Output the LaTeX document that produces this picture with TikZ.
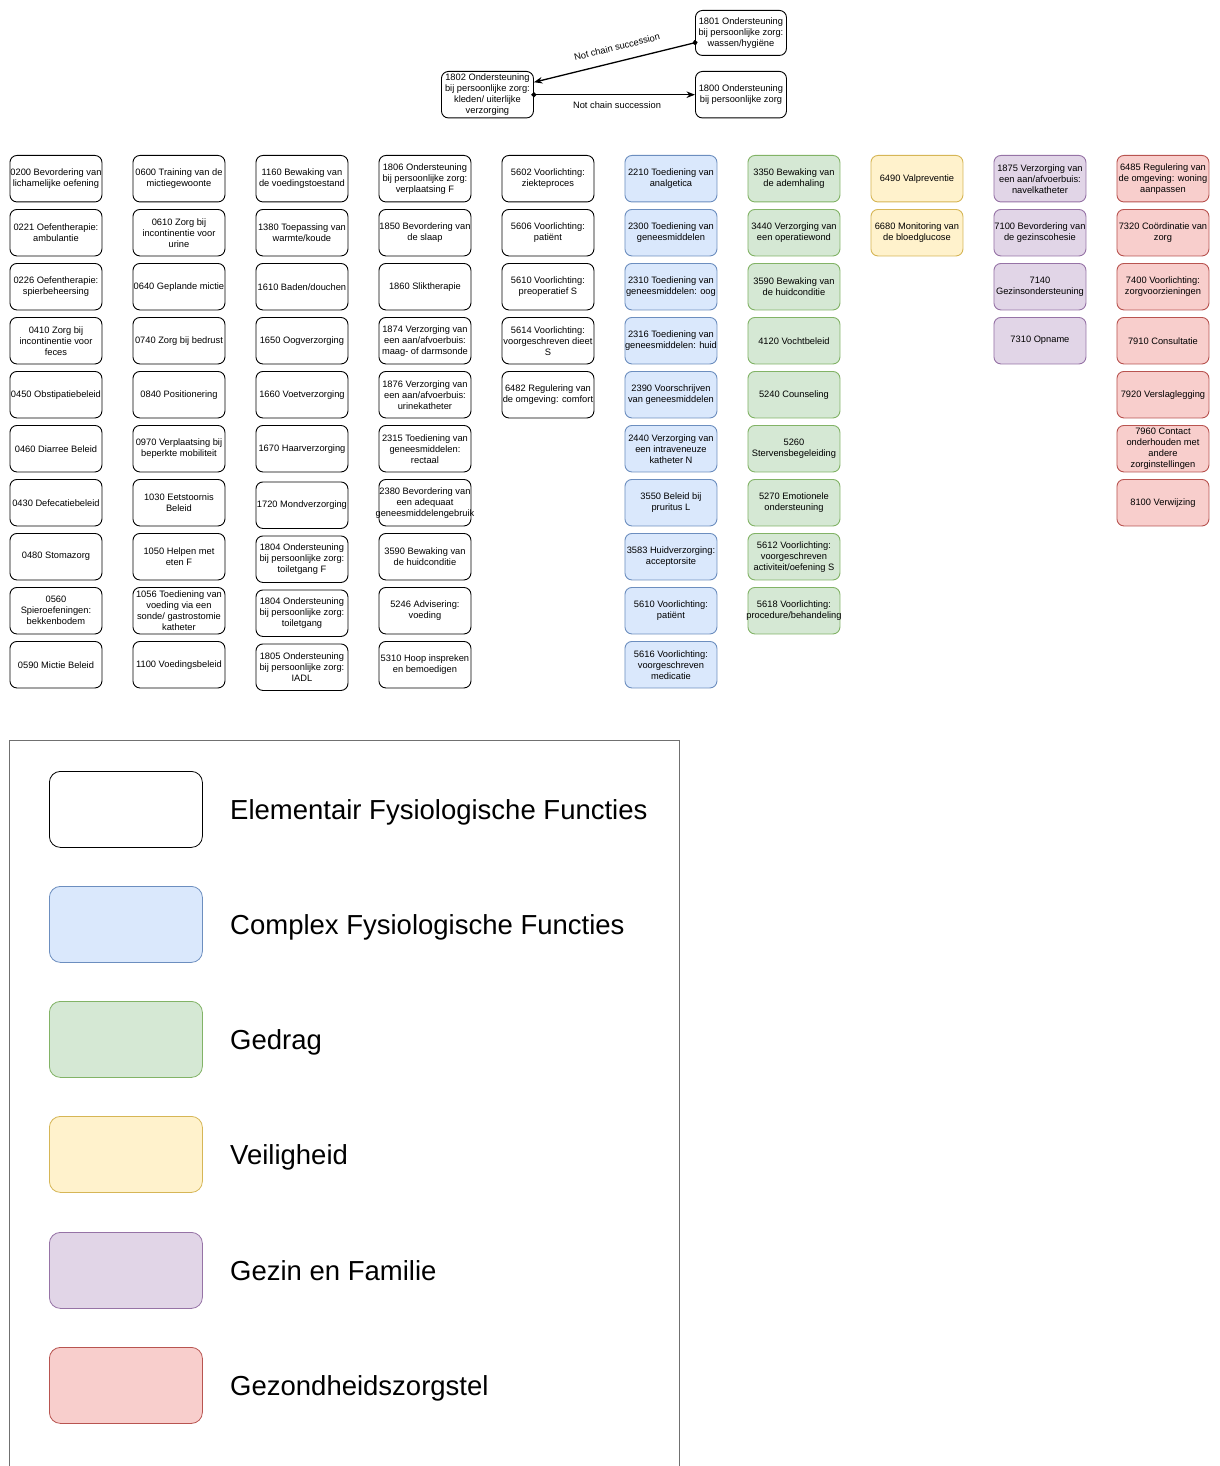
\documentclass[tikz,border=0pt]{standalone}
\usepackage{fontspec}
\setmainfont{Liberation Sans}
\usetikzlibrary{arrows.meta}

\definecolor{bluefill}{HTML}{DAE8FC}\definecolor{bluedraw}{HTML}{6C8EBF}
\definecolor{greenfill}{HTML}{D5E8D4}\definecolor{greendraw}{HTML}{82B366}
\definecolor{yellowfill}{HTML}{FFF2CC}\definecolor{yellowdraw}{HTML}{D6B656}
\definecolor{purplefill}{HTML}{E1D5E7}\definecolor{purpledraw}{HTML}{9673A6}
\definecolor{redfill}{HTML}{F8CECC}\definecolor{reddraw}{HTML}{B85450}
\definecolor{framegray}{HTML}{707070}

% one centred line of box text that may run over the box edges
\newcommand\zl[1]{\makebox[0pt]{#1}}

\begin{document}
\begin{tikzpicture}[x=1pt,y=-1pt,
  card/.style={draw=black, line width=0.9pt, rounded corners=7pt,
    minimum width=92pt, minimum height=46.5pt, inner sep=0pt,
    align=center, anchor=north west, font=\fontsize{9.3}{11}\selectfont},
  elem/.style={card, fill=white},
  cplx/.style={card, fill=bluefill, draw=bluedraw},
  gedr/.style={card, fill=greenfill, draw=greendraw},
  veil/.style={card, fill=yellowfill, draw=yellowdraw},
  gezin/.style={card, fill=purplefill, draw=purpledraw},
  zorg/.style={card, fill=redfill, draw=reddraw},
  conn/.style={line width=1.3pt, shorten <=-2.5pt,
    {Circle[length=5pt]}-{Stealth[length=8.5pt,width=6.5pt]}},
  lbl/.style={font=\fontsize{9.3}{11}\selectfont, inner sep=0pt},
  swatch/.style={line width=0.8pt, rounded corners=11pt,
    minimum width=153pt, minimum height=76pt, inner sep=0pt, anchor=north west},
  legtext/.style={font=\fontsize{27.5}{33}\selectfont, anchor=base west, inner sep=0pt}
]
\useasboundingbox[fill=white] (0,0) rectangle (1219,1466);

% ---- chain at the top ----
\node[elem, minimum width=91pt, minimum height=45pt] (n1801) at (695,10)
  {\zl{1801 Ondersteuning}\\\zl{bij persoonlijke zorg:}\\\zl{wassen/hygiëne}};
\node[elem, minimum width=92pt] (n1802) at (441,71)
  {\zl{1802 Ondersteuning}\\\zl{bij persoonlijke zorg:}\\\zl{kleden/ uiterlijke}\\\zl{verzorging}};
\node[elem, minimum width=91pt] (n1800) at (695,71)
  {\zl{1800 Ondersteuning}\\\zl{bij persoonlijke zorg}};
\draw[conn] (n1801.192.7) -- (n1802.15.5);
\draw[conn] (n1802.east) -- (n1800.west);
\node[lbl, rotate=14] (lab1) at (617,47) {Not chain succession};
\node[lbl] (lab2) at (617,105) {Not chain succession};

% ---- column 1 ----
\node[elem] (c1r1) at (9.5,155) {\zl{0200 Bevordering van}\\\zl{lichamelijke oefening}};
\node[elem] (c1r2) at (9.5,209) {\zl{0221 Oefentherapie:}\\\zl{ambulantie}};
\node[elem] (c1r3) at (9.5,263) {\zl{0226 Oefentherapie:}\\\zl{spierbeheersing}};
\node[elem] (c1r4) at (9.5,317) {\zl{0410 Zorg bij}\\\zl{incontinentie voor}\\\zl{feces}};
\node[elem] (c1r5) at (9.5,371) {\zl{0450 Obstipatiebeleid}};
\node[elem] (c1r6) at (9.5,425) {\zl{0460 Diarree Beleid}};
\node[elem] (c1r7) at (9.5,479) {\zl{0430 Defecatiebeleid}};
\node[elem] (c1r8) at (9.5,533) {\zl{0480 Stomazorg}};
\node[elem] (c1r9) at (9.5,587) {\zl{0560}\\\zl{Spieroefeningen:}\\\zl{bekkenbodem}};
\node[elem] (c1r10) at (9.5,641) {\zl{0590 Mictie Beleid}};

% ---- column 2 ----
\node[elem] (c2r1) at (132.5,155) {\zl{0600 Training van de}\\\zl{mictiegewoonte}};
\node[elem] (c2r2) at (132.5,209) {\zl{0610 Zorg bij}\\\zl{incontinentie voor}\\\zl{urine}};
\node[elem] (c2r3) at (132.5,263) {\zl{0640 Geplande mictie}};
\node[elem] (c2r4) at (132.5,317) {\zl{0740 Zorg bij bedrust}};
\node[elem] (c2r5) at (132.5,371) {\zl{0840 Positionering}};
\node[elem] (c2r6) at (132.5,425) {\zl{0970 Verplaatsing bij}\\\zl{beperkte mobiliteit}};
\node[elem] (c2r7) at (132.5,479) {\zl{1030 Eetstoornis}\\\zl{Beleid}};
\node[elem] (c2r8) at (132.5,533) {\zl{1050 Helpen met}\\\zl{eten F}};
\node[elem] (c2r9) at (132.5,587) {\zl{1056 Toediening van}\\\zl{voeding via een}\\\zl{sonde/ gastrostomie}\\\zl{katheter}};
\node[elem] (c2r10) at (132.5,641) {\zl{1100 Voedingsbeleid}};

% ---- column 3 ----
\node[elem] (c3r1) at (255.5,155) {\zl{1160 Bewaking van}\\\zl{de voedingstoestand}};
\node[elem] (c3r2) at (255.5,209) {\zl{1380 Toepassing van}\\\zl{warmte/koude}};
\node[elem] (c3r3) at (255.5,263) {\zl{1610 Baden/douchen}};
\node[elem] (c3r4) at (255.5,317) {\zl{1650 Oogverzorging}};
\node[elem] (c3r5) at (255.5,371) {\zl{1660 Voetverzorging}};
\node[elem] (c3r6) at (255.5,425) {\zl{1670 Haarverzorging}};
\node[elem] (c3r7) at (255.5,481.5) {\zl{1720 Mondverzorging}};
\node[elem] (c3r8) at (255.5,535.5) {\zl{1804 Ondersteuning}\\\zl{bij persoonlijke zorg:}\\\zl{toiletgang F}};
\node[elem] (c3r9) at (255.5,589.5) {\zl{1804 Ondersteuning}\\\zl{bij persoonlijke zorg:}\\\zl{toiletgang}};
\node[elem] (c3r10) at (255.5,643.5) {\zl{1805 Ondersteuning}\\\zl{bij persoonlijke zorg:}\\\zl{IADL}};

% ---- column 4 ----
\node[elem] (c4r1) at (378.5,155) {\zl{1806 Ondersteuning}\\\zl{bij persoonlijke zorg:}\\\zl{verplaatsing F}};
\node[elem] (c4r2) at (378.5,209) {\zl{1850 Bevordering van}\\\zl{de slaap}};
\node[elem] (c4r3) at (378.5,263) {\zl{1860 Sliktherapie}};
\node[elem] (c4r4) at (378.5,317) {\zl{1874 Verzorging van}\\\zl{een aan/afvoerbuis:}\\\zl{maag- of darmsonde}};
\node[elem] (c4r5) at (378.5,371) {\zl{1876 Verzorging van}\\\zl{een aan/afvoerbuis:}\\\zl{urinekatheter}};
\node[elem] (c4r6) at (378.5,425) {\zl{2315 Toediening van}\\\zl{geneesmiddelen:}\\\zl{rectaal}};
\node[elem] (c4r7) at (378.5,479) {\zl{2380 Bevordering van}\\\zl{een adequaat}\\\zl{geneesmiddelengebruik}};
\node[elem] (c4r8) at (378.5,533) {\zl{3590 Bewaking van}\\\zl{de huidconditie}};
\node[elem] (c4r9) at (378.5,587) {\zl{5246 Advisering:}\\\zl{voeding}};
\node[elem] (c4r10) at (378.5,641) {\zl{5310 Hoop inspreken}\\\zl{en bemoedigen}};

% ---- column 5 ----
\node[elem] (c5r1) at (501.5,155) {\zl{5602 Voorlichting:}\\\zl{ziekteproces}};
\node[elem] (c5r2) at (501.5,209) {\zl{5606 Voorlichting:}\\\zl{patiënt}};
\node[elem] (c5r3) at (501.5,263) {\zl{5610 Voorlichting:}\\\zl{preoperatief S}};
\node[elem] (c5r4) at (501.5,317) {\zl{5614 Voorlichting:}\\\zl{voorgeschreven dieet}\\\zl{S}};
\node[elem] (c5r5) at (501.5,371) {\zl{6482 Regulering van}\\\zl{de omgeving: comfort}};

% ---- column 6: complex ----
\node[cplx] (c6r1) at (624.5,155) {\zl{2210 Toediening van}\\\zl{analgetica}};
\node[cplx] (c6r2) at (624.5,209) {\zl{2300 Toediening van}\\\zl{geneesmiddelen}};
\node[cplx] (c6r3) at (624.5,263) {\zl{2310 Toediening van}\\\zl{geneesmiddelen: oog}};
\node[cplx] (c6r4) at (624.5,317) {\zl{2316 Toediening van}\\\zl{geneesmiddelen: huid}};
\node[cplx] (c6r5) at (624.5,371) {\zl{2390 Voorschrijven}\\\zl{van geneesmiddelen}};
\node[cplx] (c6r6) at (624.5,425) {\zl{2440 Verzorging van}\\\zl{een intraveneuze}\\\zl{katheter N}};
\node[cplx] (c6r7) at (624.5,479) {\zl{3550 Beleid bij}\\\zl{pruritus L}};
\node[cplx] (c6r8) at (624.5,533) {\zl{3583 Huidverzorging:}\\\zl{acceptorsite}};
\node[cplx] (c6r9) at (624.5,587) {\zl{5610 Voorlichting:}\\\zl{patiënt}};
\node[cplx] (c6r10) at (624.5,641) {\zl{5616 Voorlichting:}\\\zl{voorgeschreven}\\\zl{medicatie}};

% ---- column 7: gedrag ----
\node[gedr] (c7r1) at (747.5,155) {\zl{3350 Bewaking van}\\\zl{de ademhaling}};
\node[gedr] (c7r2) at (747.5,209) {\zl{3440 Verzorging van}\\\zl{een operatiewond}};
\node[gedr] (c7r3) at (747.5,263) {\zl{3590 Bewaking van}\\\zl{de huidconditie}};
\node[gedr] (c7r4) at (747.5,317) {\zl{4120 Vochtbeleid}};
\node[gedr] (c7r5) at (747.5,371) {\zl{5240 Counseling}};
\node[gedr] (c7r6) at (747.5,425) {\zl{5260}\\\zl{Stervensbegeleiding}};
\node[gedr] (c7r7) at (747.5,479) {\zl{5270 Emotionele}\\\zl{ondersteuning}};
\node[gedr] (c7r8) at (747.5,533) {\zl{5612 Voorlichting:}\\\zl{voorgeschreven}\\\zl{activiteit/oefening S}};
\node[gedr] (c7r9) at (747.5,587) {\zl{5618 Voorlichting:}\\\zl{procedure/behandeling}};

% ---- column 8: veiligheid ----
\node[veil] (c8r1) at (870.5,155) {\zl{6490 Valpreventie}};
\node[veil] (c8r2) at (870.5,209) {\zl{6680 Monitoring van}\\\zl{de bloedglucose}};

% ---- column 9: gezin en familie ----
\node[gezin] (c9r1) at (993.5,155) {\zl{1875 Verzorging van}\\\zl{een aan/afvoerbuis:}\\\zl{navelkatheter}};
\node[gezin] (c9r2) at (993.5,209) {\zl{7100 Bevordering van}\\\zl{de gezinscohesie}};
\node[gezin] (c9r3) at (993.5,263) {\zl{7140}\\\zl{Gezinsondersteuning}};
\node[gezin] (c9r4) at (993.5,317) {\zl{7310 Opname}};

% ---- column 10: gezondheidszorgstel ----
\node[zorg] (c10r1) at (1116.5,155) {\zl{6485 Regulering van}\\\zl{de omgeving: woning}\\\zl{aanpassen}};
\node[zorg] (c10r2) at (1116.5,209) {\zl{7320 Coördinatie van}\\\zl{zorg}};
\node[zorg] (c10r3) at (1116.5,263) {\zl{7400 Voorlichting:}\\\zl{zorgvoorzieningen}};
\node[zorg] (c10r4) at (1116.5,317) {\zl{7910 Consultatie}};
\node[zorg] (c10r5) at (1116.5,371) {\zl{7920 Verslaglegging}};
\node[zorg] (c10r6) at (1116.5,425) {\zl{7960 Contact}\\\zl{onderhouden met}\\\zl{andere}\\\zl{zorginstellingen}};
\node[zorg] (c10r7) at (1116.5,479) {\zl{8100 Verwijzing}};

% ---- legend ----
\draw[framegray, line width=0.9pt] (9,1466.5) -- (9,740) -- (679,740) -- (679,1466.5);
\node[swatch, draw=black, fill=white] (leg1) at (49,771) {};
\node[swatch, draw=bluedraw, fill=bluefill] (leg2) at (49,886) {};
\node[swatch, draw=greendraw, fill=greenfill] (leg3) at (49,1001) {};
\node[swatch, draw=yellowdraw, fill=yellowfill] (leg4) at (49,1116) {};
\node[swatch, draw=purpledraw, fill=purplefill] (leg5) at (49,1232) {};
\node[swatch, draw=reddraw, fill=redfill] (leg6) at (49,1347) {};
\node[legtext] (legt1) at (230,819) {Elementair Fysiologische Functies};
\node[legtext] (legt2) at (230,934) {Complex Fysiologische Functies};
\node[legtext] (legt3) at (230,1049) {Gedrag};
\node[legtext] (legt4) at (230,1164) {Veiligheid};
\node[legtext] (legt5) at (230,1280) {Gezin en Familie};
\node[legtext] (legt6) at (230,1395) {Gezondheidszorgstel};
\end{tikzpicture}
\end{document}
